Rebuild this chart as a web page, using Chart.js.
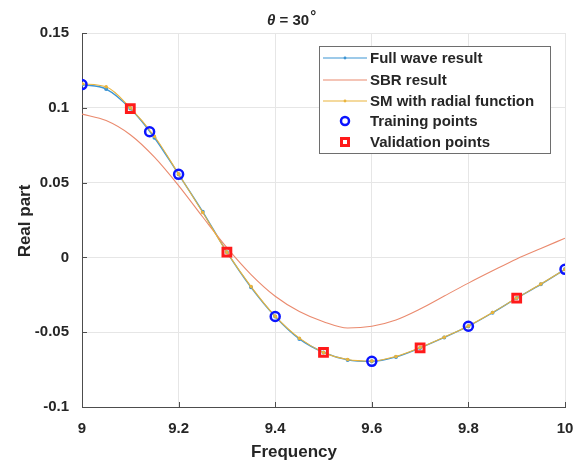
<!DOCTYPE html>
<html>
<head>
<meta charset="utf-8">
<script src="https://cdn.jsdelivr.net/npm/chart.js@4"></script>
<style>
  html, body { margin: 0; padding: 0; background: #ffffff; }
  #wrap { width: 574px; height: 465px; position: relative; }
</style>
</head>
<body>
<div id="wrap"><canvas id="c" width="574" height="465"></canvas></div>
<script>
// ---- data ----
const freq = [9.00, 9.05, 9.10, 9.15, 9.20, 9.25, 9.30, 9.35, 9.40, 9.45, 9.50,
              9.55, 9.60, 9.65, 9.70, 9.75, 9.80, 9.85, 9.90, 9.95, 10.00];
const fullWave = [0.1155, 0.1125, 0.0995, 0.0800, 0.0555, 0.0305, 0.0035, -0.0200, -0.0395, -0.0545, -0.0635,
                  -0.0685, -0.0695, -0.0665, -0.0605, -0.0535, -0.0460, -0.0370, -0.0272, -0.0180, -0.0080];
const sbr = [0.0958, 0.0915, 0.0820, 0.0670, 0.0480, 0.0270, 0.0065, -0.0115, -0.0260, -0.0362, -0.0430,
             -0.0472, -0.0460, -0.0418, -0.0345, -0.0258, -0.0172, -0.0090, -0.0010, 0.0060, 0.0128];
const smRadial = [0.1160, 0.1140, 0.1000, 0.0810, 0.0558, 0.0300, 0.0035, -0.0195, -0.0393, -0.0540, -0.0635,
                  -0.0683, -0.0693, -0.0662, -0.0603, -0.0533, -0.0458, -0.0368, -0.0272, -0.0178, -0.0080];
const trainFreq = [9.00, 9.14, 9.20, 9.40, 9.60, 9.80, 10.00];
const trainVal  = [0.1155, 0.0840, 0.0555, -0.0395, -0.0695, -0.0460, -0.0080];
const validFreq = [9.10, 9.30, 9.50, 9.70, 9.90];
const validVal  = [0.0995, 0.0035, -0.0635, -0.0605, -0.0272];
const xTicks = [9, 9.2, 9.4, 9.6, 9.8, 10];
const yTicks = [-0.1, -0.05, 0, 0.05, 0.1, 0.15];
const seriesNames = ['Full wave result', 'SBR result', 'SM with radial function', 'Training points', 'Validation points'];
const titleParts = ['\u03b8', ' = 30', '\u00b0'];
const xTitle = 'Frequency';
const yTitle = 'Real part';

// ---- colours / styles ----
const cFull = '#3d95d4';
const cSbr = '#ea8a6e';
const cSm = '#eab43c';
const cTrain = '#0a14ff';
const cValid = '#ff1a1a';
const txt = '#262626';
const axisCol = '#4d4d4d';

const pts = (xs, ys) => xs.map((x, i) => ({ x: x, y: ys[i] }));
const fmt = v => String(Number(v.toFixed(2)));

const overlay = {
  id: 'overlay',
  afterDraw(chart) {
    const ctx = chart.ctx;
    const xs = chart.scales.x, ys = chart.scales.y;
    const a = chart.chartArea;
    ctx.save();
    // inward ticks
    ctx.strokeStyle = axisCol;
    ctx.lineWidth = 1;
    ctx.beginPath();
    xTicks.forEach(v => {
      const px = Math.round(xs.getPixelForValue(v)) + 0.5;
      ctx.moveTo(px, a.bottom); ctx.lineTo(px, a.bottom - 5);
    });
    yTicks.forEach(v => {
      const py = Math.round(ys.getPixelForValue(v)) + 0.5;
      ctx.moveTo(a.left, py); ctx.lineTo(a.left + 5, py);
    });
    ctx.stroke();

    // legend box
    const bx = 319.5, by = 46.5, bw = 231, bh = 107;
    ctx.fillStyle = '#ffffff';
    ctx.fillRect(bx, by, bw, bh);
    ctx.strokeStyle = '#6e6e6e';
    ctx.lineWidth = 1;
    ctx.strokeRect(bx, by, bw, bh);
    const rows = [58, 80, 101, 121, 142];
    const lx0 = 323, lx1 = 367, mx = 345, tx = 370;
    ctx.font = 'bold 15px "Liberation Sans", Arial, sans-serif';
    ctx.textBaseline = 'middle';
    ctx.textAlign = 'left';
    [[cFull, 1.2, true], [cSbr, 1.1, false], [cSm, 1.2, true]].forEach((s, i) => {
      ctx.strokeStyle = s[0]; ctx.lineWidth = s[1];
      ctx.beginPath(); ctx.moveTo(lx0, rows[i]); ctx.lineTo(lx1, rows[i]); ctx.stroke();
      if (s[2]) { ctx.fillStyle = s[0]; ctx.beginPath(); ctx.arc(mx, rows[i], 1.4, 0, Math.PI * 2); ctx.fill(); }
    });
    ctx.strokeStyle = cTrain; ctx.lineWidth = 2.5;
    ctx.beginPath(); ctx.arc(mx, rows[3], 4, 0, Math.PI * 2); ctx.stroke();
    ctx.strokeStyle = cValid; ctx.lineWidth = 3;
    ctx.strokeRect(mx - 3.5, rows[4] - 3.5, 7, 7);
    ctx.fillStyle = txt;
    seriesNames.forEach((n, i) => ctx.fillText(n, tx, rows[i] + 1));

    // title
    ctx.fillStyle = txt;
    ctx.textBaseline = 'alphabetic';
    let x = 267;
    ctx.font = 'italic bold 15px "Liberation Sans", Arial, sans-serif';
    ctx.fillText(titleParts[0], x, 25);
    x += ctx.measureText(titleParts[0]).width;
    ctx.font = 'bold 15px "Liberation Sans", Arial, sans-serif';
    ctx.fillText(titleParts[1], x, 25);
    x += ctx.measureText(titleParts[1]).width + 1;
    ctx.font = 'bold 15px "Liberation Sans", Arial, sans-serif';
    ctx.fillText(titleParts[2], x, 21);

    // axis titles
    ctx.font = 'bold 17px "Liberation Sans", Arial, sans-serif';
    ctx.textAlign = 'center';
    ctx.textBaseline = 'middle';
    ctx.fillText(xTitle, 294, 452);
    ctx.save();
    ctx.translate(25, 221);
    ctx.rotate(-Math.PI / 2);
    ctx.fillText(yTitle, 0, 0);
    ctx.restore();
    ctx.restore();
  }
};

new Chart(document.getElementById('c'), {
  type: 'line',
  data: {
    datasets: [
      { label: seriesNames[0], data: pts(freq, fullWave), borderColor: cFull, backgroundColor: cFull,
        borderWidth: 1.4, pointRadius: 1.3, pointHoverRadius: 1.3, cubicInterpolationMode: 'monotone', order: 3 },
      { label: seriesNames[1], data: pts(freq, sbr), borderColor: cSbr, backgroundColor: cSbr,
        borderWidth: 1.1, pointRadius: 0, cubicInterpolationMode: 'monotone', order: 2 },
      { label: seriesNames[2], data: pts(freq, smRadial), borderColor: cSm, backgroundColor: cSm,
        borderWidth: 1.1, pointRadius: 1.2, pointHoverRadius: 1.2, cubicInterpolationMode: 'monotone', order: 1 },
      { label: seriesNames[3], data: pts(trainFreq, trainVal), showLine: false, pointStyle: 'circle',
        pointRadius: 4.5, pointBorderWidth: 2.5, borderColor: cTrain, backgroundColor: 'rgba(0,0,0,0)', order: 0 },
      { label: seriesNames[4], data: pts(validFreq, validVal), showLine: false, pointStyle: 'rect',
        pointRadius: 5.5, pointBorderWidth: 3, borderColor: cValid, backgroundColor: 'rgba(0,0,0,0)', order: 0 }
    ]
  },
  options: {
    responsive: false,
    animation: false,
    events: [],
    layout: { padding: { top: 33, right: 9, left: 0, bottom: 0 } },
    plugins: { legend: { display: false }, title: { display: false }, tooltip: { enabled: false } },
    scales: {
      x: {
        type: 'linear', min: 9, max: 10,
        afterBuildTicks: s => { s.ticks = xTicks.map(v => ({ value: v })); },
        afterFit: s => { s.height = 58; s.paddingLeft = 0; s.paddingRight = 0; },
        grid: { color: '#e6e6e6', lineWidth: 1, drawTicks: false },
        border: { color: axisCol, width: 1 },
        ticks: { callback: v => fmt(v), color: txt, padding: 13, maxRotation: 0,
                 font: { family: '"Liberation Sans", Arial, sans-serif', size: 15, weight: 'bold' } }
      },
      y: {
        type: 'linear', min: -0.1, max: 0.15,
        afterBuildTicks: s => { s.ticks = yTicks.map(v => ({ value: v })); },
        afterFit: s => { s.width = 82; s.paddingTop = 0; s.paddingBottom = 0; },
        grid: { color: '#e6e6e6', lineWidth: 1, drawTicks: false },
        border: { color: axisCol, width: 1 },
        ticks: { callback: v => fmt(v), color: txt, padding: 13,
                 font: { family: '"Liberation Sans", Arial, sans-serif', size: 15, weight: 'bold' } }
      }
    }
  },
  plugins: [overlay]
});
</script>
</body>
</html>
